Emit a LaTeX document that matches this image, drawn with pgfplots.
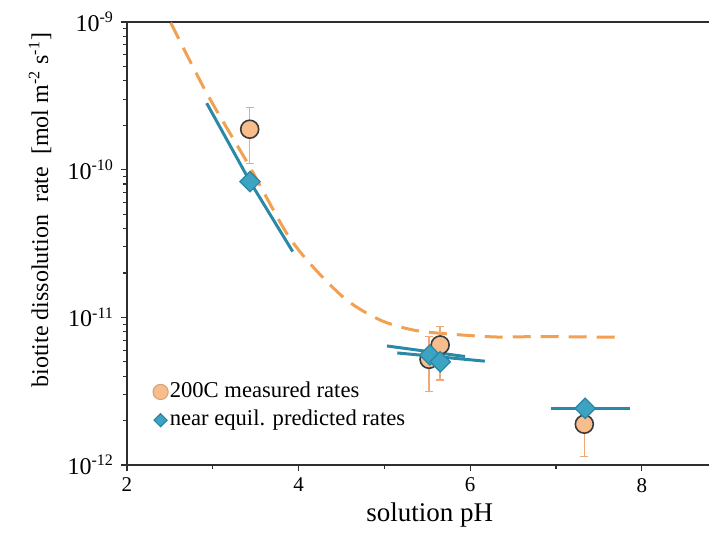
\documentclass[border=0pt]{standalone}
\usepackage{fontspec}
\setmainfont{Liberation Serif}
\usepackage{pgfplots}
\pgfplotsset{compat=1.18}
\definecolor{circfill}{HTML}{F8BD8C}
\definecolor{circedge}{HTML}{3A3A3A}
\definecolor{diafill}{HTML}{3DA3C2}
\definecolor{diaedge}{HTML}{2B86A3}
\definecolor{bluel}{HTML}{2A89A6}
\definecolor{orangel}{HTML}{F2A052}
\definecolor{errc}{HTML}{F2A872}
\definecolor{axc}{HTML}{2E2E2E}
\begin{document}
\begin{tikzpicture}
\begin{axis}[
  scale only axis,
  width=291pt, height=221.5pt,
  xmin=2, xmax=8.783,
  ymode=log, ymin=1e-12, ymax=1e-9,
  axis lines=left,
  axis line style={-, draw=axc, line width=0.9pt},
  clip=false,
  tick align=outside,
  major tick length=3pt, minor tick length=2pt,
  tick style={draw=axc, line width=0.6pt},
  xtick={2,4,6,8}, minor xtick={3,5,7},
  ytick={1e-12,1e-11,1e-10,1e-9},
  yticklabels={10\textsuperscript{-12},10\textsuperscript{-11},10\textsuperscript{-10},10\textsuperscript{-9}},
  minor ytick={2e-12,3e-12,4e-12,5e-12,6e-12,7e-12,8e-12,9e-12,2e-11,3e-11,4e-11,5e-11,6e-11,7e-11,8e-11,9e-11,2e-10,3e-10,4e-10,5e-10,6e-10,7e-10,8e-10,9e-10},
  /pgf/number format/assume math mode=true,
  xticklabel style={font=\fontsize{10.5}{12}\selectfont},
  yticklabel style={font=\fontsize{12}{14}\selectfont},
  xlabel={solution pH},
  ylabel={biotite dissolution\ \ rate\ \ [mol m\textsuperscript{-2} s\textsuperscript{-1}]},
  every axis x label/.style={at={(axis description cs:0.52,-0.113)}, anchor=center, font=\fontsize{13.5}{15}\selectfont},
  every axis y label/.style={at={(axis description cs:-0.1495,0.575)}, anchor=center, rotate=90, font=\fontsize{12}{14}\selectfont},
  legend style={draw=none, fill=none, at={(axis description cs:0.044,0.133)}, anchor=west,
    inner sep=0pt, row sep=4.5pt, font=\fontsize{11.3}{13}\selectfont,
    nodes={inner sep=0.8pt, text height=1.5ex, text depth=0.25ex}},
  legend cell align=left,
  legend image code/.code={\draw[#1] plot coordinates {(0pt,0pt)};},
]
\coordinate (bl) at (rel axis cs:0,0);
\coordinate (tr) at (rel axis cs:1,1);
\draw[axc, line width=0.9pt] (rel axis cs:0,1) -- (rel axis cs:1,1);

% dashed model curve
\addplot[orangel, line width=1.5pt, dash pattern=on 9pt off 5pt, smooth, forget plot] coordinates {
 (2.51,9.89e-10) (2.93,3.29e-10) (3.43,1.047e-10) (3.86,3.72e-11) (4.17,2.19e-11)
 (4.56,1.31e-11) (4.95,9.59e-12) (5.33,8.22e-12) (5.73,7.73e-12) (6.31,7.36e-12)
 (6.81,7.41e-12) (7.75,7.33e-12)};

% error bars
\addplot[errc, line width=0.75pt, mark=-, mark size=2pt, forget plot] coordinates {(3.43,1.10e-10) (3.43,2.63e-10)};
\addplot[errc, line width=0.75pt, mark=-, mark size=2pt, forget plot] coordinates {(5.52,3.14e-12) (5.52,7.4e-12)};
\addplot[errc, line width=0.75pt, mark=-, mark size=2pt, forget plot] coordinates {(5.65,3.77e-12) (5.65,8.65e-12)};
\addplot[errc, line width=0.75pt, mark=-, mark size=2pt, forget plot] coordinates {(7.33,1.14e-12) (7.33,2.4e-12)};

% measured rates
\addplot[only marks, mark=*, mark size=4.5pt, mark options={fill=circfill, draw=circedge, line width=0.8pt},
  legend image post style={mark size=3.8pt, mark options={fill=circfill, draw=circfill!85!black, line width=0.5pt}}] coordinates {
 (3.43,1.88e-10) (5.52,5.2e-12) (5.65,6.5e-12) (7.33,1.89e-12)};
\addlegendentry{200C measured rates}

% predicted ranges
\addplot[bluel, line width=1.5pt, forget plot] coordinates {(2.929,2.82e-10) (3.434,8.3e-11) (3.931,2.79e-11)};
\addplot[bluel, line width=1.5pt, forget plot] coordinates {(5.03,6.40e-12) (5.94,5.43e-12)};
\addplot[bluel, line width=1.5pt, forget plot] coordinates {(5.15,5.74e-12) (6.17,5.05e-12)};
\addplot[bluel, line width=1.5pt, forget plot] coordinates {(6.94,2.42e-12) (7.86,2.42e-12)};

\addplot[only marks, mark=square*, mark size=3.6pt, mark options={rotate=45, fill=diafill, draw=diaedge, line width=0.6pt},
  legend image post style={mark size=2.3pt}] coordinates {
 (3.434,8.3e-11) (5.53,5.56e-12) (5.65,5.0e-12) (7.34,2.42e-12)};
\addlegendentry{near equil. predicted rates}
\end{axis}
\pgfresetboundingbox
\path[use as bounding box] ([xshift=-63.5pt,yshift=-34pt]bl) rectangle ([yshift=11pt]tr);
\end{tikzpicture}
\end{document}
